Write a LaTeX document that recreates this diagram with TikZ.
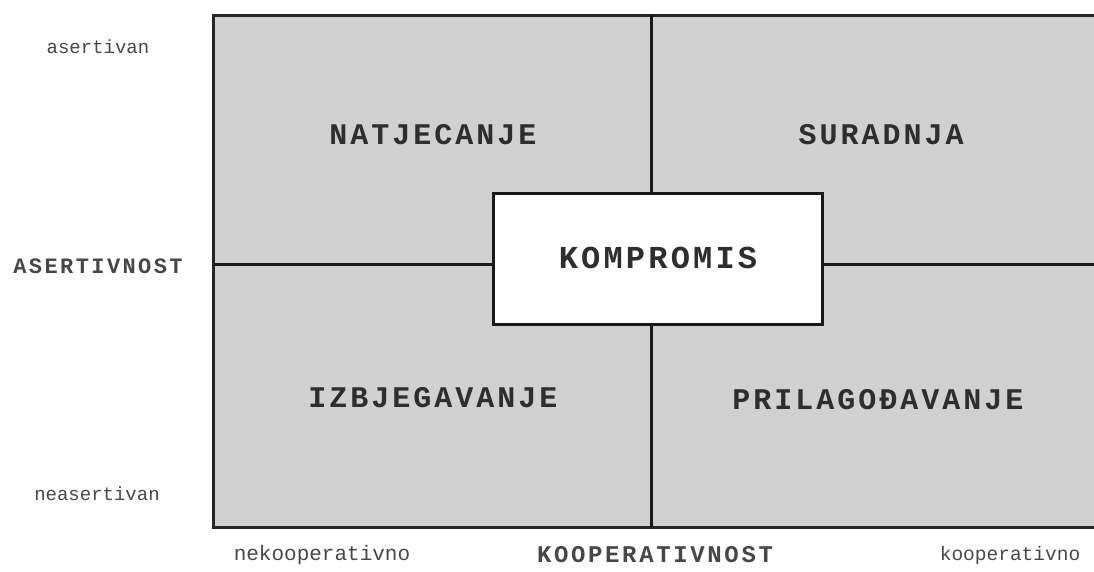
\documentclass[tikz,border=0pt]{standalone}
\usepackage{fontspec}
\setmainfont{Liberation Mono}
\begin{document}
\begin{tikzpicture}[x=1pt,y=-1pt,
  quad/.style={font=\fontsize{30}{33}\selectfont\bfseries\addfontfeatures{LetterSpace=10}, text=black!82},
  axisbig/.style={text=black!72},
  axissmall/.style={font=\fontsize{19}{22}\selectfont, text=black!72},
  divider/.style={line width=3pt, black!90}]
\useasboundingbox (0,0) rectangle (1094,571);
% outer area
\fill[fill={rgb,255:red,208;green,208;blue,208}] (213,15) rectangle (1094,527);
\draw[line width=3pt, black!85] (1094,15) -- (213,15) -- (213,527) -- (1094,527);
% dividers
\coordinate (vt) at (651,15);
\coordinate (vb) at (651,527);
\coordinate (hl) at (213,264);
\coordinate (hr) at (1094,264);
\draw[divider] (vt) -- (vb);
\draw[divider] (hl) -- (hr);
% center box
\node[draw=black!90, line width=3pt, fill=white, minimum width=329pt, minimum height=131pt, inner sep=0pt] (komp) at (657.5,258.5) {};
\node[quad, font=\fontsize{32}{35}\selectfont\bfseries\addfontfeatures{LetterSpace=10}] (komptext) at (658,258) {KOMPROMIS};
% quadrant labels
\node[quad] (nat) at (433,135) {NATJECANJE};
\node[quad] (sur) at (881,135) {SURADNJA};
\node[quad] (izb) at (433,398) {IZBJEGAVANJE};
\node[quad] (pri) at (878,400) {PRILAGOĐAVANJE};
% axis labels
\node[axissmall] (as) at (98,47) {asertivan};
\node[axisbig, font=\fontsize{22}{25}\selectfont\bfseries\addfontfeatures{LetterSpace=11}] (asn) at (98,266) {ASERTIVNOST};
\node[axissmall] (neas) at (97,494) {neasertivan};
\node[axissmall, font=\fontsize{21}{24}\selectfont] (nek) at (322,555) {nekooperativno};
\node[axisbig, font=\fontsize{24}{27}\selectfont\bfseries\addfontfeatures{LetterSpace=11}] (koop) at (655,555) {KOOPERATIVNOST};
\node[axissmall, font=\fontsize{19.5}{24}\selectfont] (ko) at (1010,555) {kooperativno};
\end{tikzpicture}
\end{document}
